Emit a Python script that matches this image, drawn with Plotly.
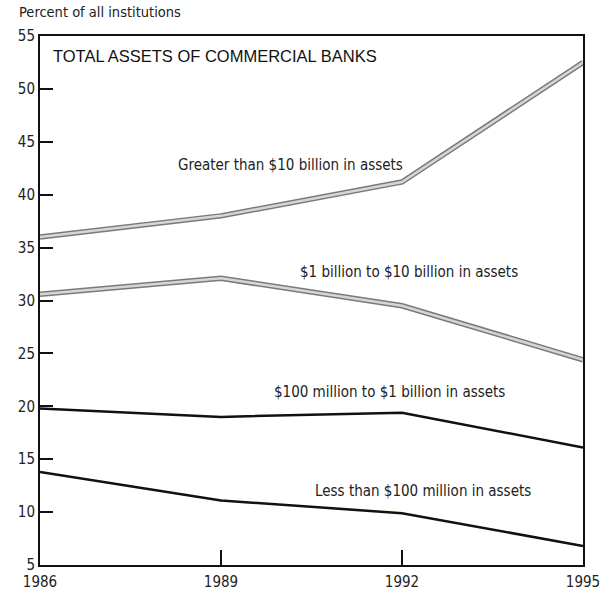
import plotly.graph_objects as go

years = [1986, 1989, 1992, 1995]
over_10b = [36.0, 38.0, 41.2, 52.5]
b1_to_10b = [30.6, 32.1, 29.5, 24.4]
m100_to_1b = [19.8, 19.0, 19.4, 16.1]
under_100m = [13.8, 11.1, 9.9, 6.8]

y_ticks = [5, 10, 15, 20, 25, 30, 35, 40, 45, 50, 55]
x_ticks = [1986, 1989, 1992, 1995]

labels = [
    ("Greater than $10 billion in assets", 1990.15, 42.8),
    ("$1 billion to $10 billion in assets", 1992.12, 32.7),
    ("$100 million to $1 billion in assets", 1991.8, 21.35),
    ("Less than $100 million in assets", 1992.35, 12.0),
]

NARROW = "Liberation Sans Narrow, DejaVu Sans Condensed, Arial Narrow, sans-serif"

fig = go.Figure()

for series in (over_10b, b1_to_10b):
    fig.add_trace(go.Scatter(x=years, y=series, mode="lines",
                             line=dict(color="#7a7a7a", width=5.5),
                             hoverinfo="skip", showlegend=False))
    fig.add_trace(go.Scatter(x=years, y=series, mode="lines",
                             line=dict(color="#d6d6d6", width=2.5),
                             showlegend=False))

for series in (m100_to_1b, under_100m):
    fig.add_trace(go.Scatter(x=years, y=series, mode="lines",
                             line=dict(color="#111111", width=2.5),
                             showlegend=False))

for text, x, y in labels:
    fig.add_annotation(x=x, y=y, text=text, showarrow=False,
                       font=dict(family=NARROW, size=15, color="#222222"),
                       xanchor="center", yanchor="middle")

fig.add_annotation(x=0.02, y=0.962, xref="paper", yref="paper",
                   text="TOTAL ASSETS OF COMMERCIAL BANKS", showarrow=False,
                   xanchor="left", yanchor="middle",
                   font=dict(family="Liberation Sans, Arial, sans-serif", size=16.5, color="#111111"))

fig.add_annotation(x=-0.043, y=1.045, xref="paper", yref="paper",
                   text="Percent of all institutions", showarrow=False,
                   xanchor="left", yanchor="middle",
                   font=dict(family=NARROW, size=14.5, color="#222222"))

fig.update_layout(
    width=606, height=593,
    margin=dict(l=40, r=23, t=36, b=28),
    paper_bgcolor="white", plot_bgcolor="white",
    showlegend=False,
    xaxis=dict(range=[1986, 1995], tickvals=x_ticks, ticktext=[str(v) for v in x_ticks],
               ticks="inside", ticklen=15, tickwidth=2, tickcolor="#111111",
               showline=True, linecolor="#111111", linewidth=2, mirror=True,
               showgrid=False, zeroline=False, automargin=False,
               ticklabelstandoff=2,
               tickfont=dict(family=NARROW, size=15, color="#222222")),
    yaxis=dict(range=[5, 55], tickvals=y_ticks, ticktext=[str(v) for v in y_ticks],
               ticks="inside", ticklen=13, tickwidth=2, tickcolor="#111111",
               showline=True, linecolor="#111111", linewidth=2, mirror=True,
               showgrid=False, zeroline=False, automargin=False,
               tickfont=dict(family=NARROW, size=15, color="#222222")),
)

fig.write_html("out.html", config={"displayModeBar": False},
               post_script="document.body.style.margin='0px';document.body.style.overflow='hidden';")
